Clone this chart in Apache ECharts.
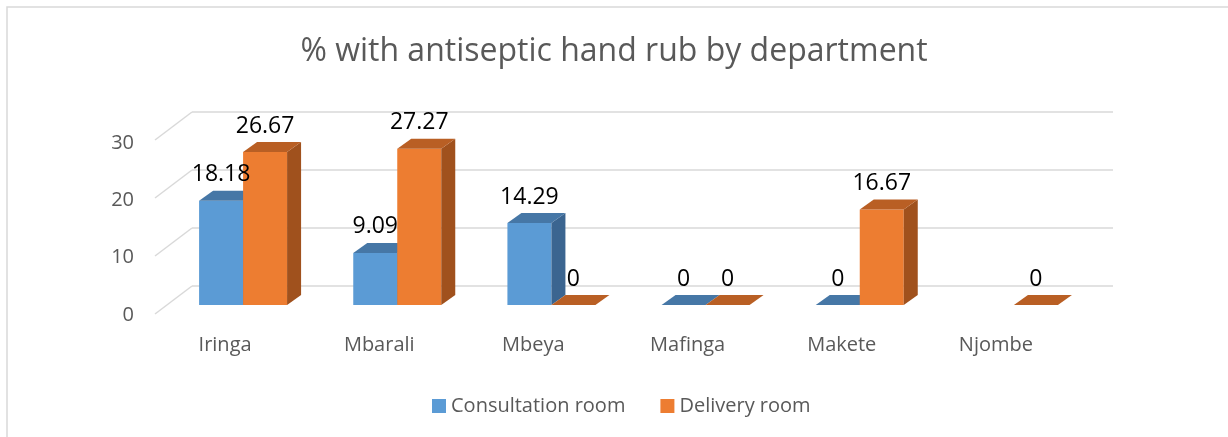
<!doctype html>
<html lang="en">
<head>
    <meta charset="UTF-8">
    <title>% with antiseptic hand rub by department</title>
    <style>
        html, body { margin: 0; padding: 0; background: #fff; }
        #main { width: 1228px; height: 437px; }
    </style>
</head>
<body>
<div id="main"></div>
<script src="https://cdn.jsdelivr.net/npm/echarts@6/dist/echarts.min.js"></script>
<script>
    var categories = ['Iringa', 'Mbarali', 'Mbeya', 'Mafinga', 'Makete', 'Njombe'];
    var consultation = [18.18, 9.09, 14.29, 0, 0, null];
    var delivery = [26.67, 27.27, 0, 0, 16.67, 0];
    var yTicks = [0, 10, 20, 30];

    (function () {
        var FONT = '"Open Sans", sans-serif';
        var BAR_W = 44, DX = 14, DY = 10;   // front width, box depth
        var myChart = echarts.init(document.getElementById('main'));

        function toData(arr) {
            var out = [];
            for (var i = 0; i < arr.length; i++) {
                if (arr[i] != null) out.push([i, arr[i]]);
            }
            return out;
        }

        // 3d box: front face, top face, side face
        function boxRender(shift, cFront, cTop, cSide) {
            return function (params, api) {
                var base = api.coord([api.value(0), 0]);
                var tp = api.coord([api.value(0), api.value(1)]);
                var x0 = tp[0] + shift * BAR_W, x1 = x0 + BAR_W;
                var yt = tp[1], yb = base[1];
                return {
                    type: 'group',
                    children: [{
                        type: 'rect',
                        shape: {x: x0, y: yt, width: BAR_W, height: yb - yt},
                        style: {fill: cFront}
                    }, {
                        type: 'polygon',
                        shape: {points: [[x1, yt], [x1 + DX, yt - DY], [x1 + DX, yb - DY], [x1, yb]]},
                        style: {fill: cSide}
                    }, {
                        type: 'polygon',
                        shape: {points: [[x0, yt], [x0 + DX, yt - DY], [x1 + DX, yt - DY], [x1, yt]]},
                        style: {fill: cTop}
                    }]
                };
            };
        }

        function labelRender(shift) {
            return function (params, api) {
                var tp = api.coord([api.value(0), api.value(1)]);
                return {
                    type: 'text',
                    x: tp[0] + shift * BAR_W + BAR_W / 2,
                    y: tp[1] - 26,
                    style: {
                        text: String(api.value(1)),
                        fill: '#000',
                        font: '23px ' + FONT,
                        align: 'center',
                        verticalAlign: 'middle'
                    }
                };
            };
        }

        var option = {
            animation: false,
            backgroundColor: '#fff',
            title: {
                text: '% with antiseptic hand rub by department',
                left: 'center',
                top: 31,
                textStyle: {color: '#595959', fontSize: 32, fontWeight: 'normal', fontFamily: FONT}
            },
            legend: {
                data: ['Consultation room', 'Delivery room'],
                left: 427,
                top: 391,
                icon: 'rect',
                itemWidth: 14,
                itemHeight: 14,
                itemGap: 35,
                textStyle: {color: '#595959', fontSize: 20, fontFamily: FONT}
            },
            graphic: [{
                type: 'rect',
                shape: {x: 7, y: 7, width: 1300, height: 500},
                style: {fill: 'none', stroke: '#d9d9d9', lineWidth: 1.5},
                silent: true
            }],
            grid: [
                {left: 166, top: 133, width: 925, height: 172, outerBoundsMode: 'none'},
                {left: 192, top: 112, width: 921, height: 174, outerBoundsMode: 'none'},
                {left: 155, top: 143, width: 10, height: 172, outerBoundsMode: 'none'}
            ],
            xAxis: [{
                gridIndex: 0,
                type: 'category',
                data: categories,
                axisLine: {show: false},
                axisTick: {show: false},
                axisLabel: {
                    color: '#595959', fontSize: 20, fontFamily: FONT,
                    margin: 30, padding: [0, 36, 0, 0]
                }
            }, {
                gridIndex: 1, type: 'value', min: 0, max: 1, show: false
            }, {
                gridIndex: 2, type: 'value', min: 0, max: 1, show: false
            }],
            yAxis: [{
                gridIndex: 0, type: 'value', min: 0, max: 30, interval: 10, show: false
            }, {
                gridIndex: 1, type: 'value', min: 0, max: 30, interval: 10,
                axisLine: {show: false},
                axisTick: {show: false},
                axisLabel: {show: false},
                splitLine: {lineStyle: {color: '#d9d9d9', width: 1.5}}
            }, {
                gridIndex: 2, type: 'value', min: 0, max: 30, interval: 10,
                axisLine: {show: false},
                axisTick: {show: false},
                splitLine: {show: false},
                axisLabel: {color: '#595959', fontSize: 20, fontFamily: FONT, margin: 21}
            }],
            series: [{
                // floor diagonals to the back wall
                type: 'custom',
                name: 'floor',
                xAxisIndex: 1,
                yAxisIndex: 1,
                silent: true,
                data: yTicks.map(function (v) { return [0, v]; }),
                renderItem: function (params, api) {
                    var p = api.coord([0, api.value(1)]);
                    return {
                        type: 'line',
                        shape: {x1: p[0] - 37, y1: p[1] + 28, x2: p[0], y2: p[1]},
                        style: {stroke: '#d9d9d9', lineWidth: 1.5}
                    };
                }
            }, {
                type: 'custom',
                name: 'Consultation room',
                itemStyle: {color: '#5B9BD5'},
                data: toData(consultation),
                encode: {x: 0, y: 1},
                renderItem: boxRender(-1, '#5B9BD5', '#4677A6', '#3B6590'),
                z: 3
            }, {
                type: 'custom',
                name: 'Delivery room',
                itemStyle: {color: '#ED7D31'},
                data: toData(delivery),
                encode: {x: 0, y: 1},
                renderItem: boxRender(0, '#ED7D31', '#B95F24', '#A0511D'),
                z: 4
            }, {
                type: 'custom',
                name: 'consultation labels',
                data: toData(consultation),
                encode: {x: 0, y: 1},
                renderItem: labelRender(-1),
                z: 10
            }, {
                type: 'custom',
                name: 'delivery labels',
                data: toData(delivery),
                encode: {x: 0, y: 1},
                renderItem: labelRender(0),
                z: 10
            }]
        };
        myChart.setOption(option);
    })();
</script>
</body>
</html>
